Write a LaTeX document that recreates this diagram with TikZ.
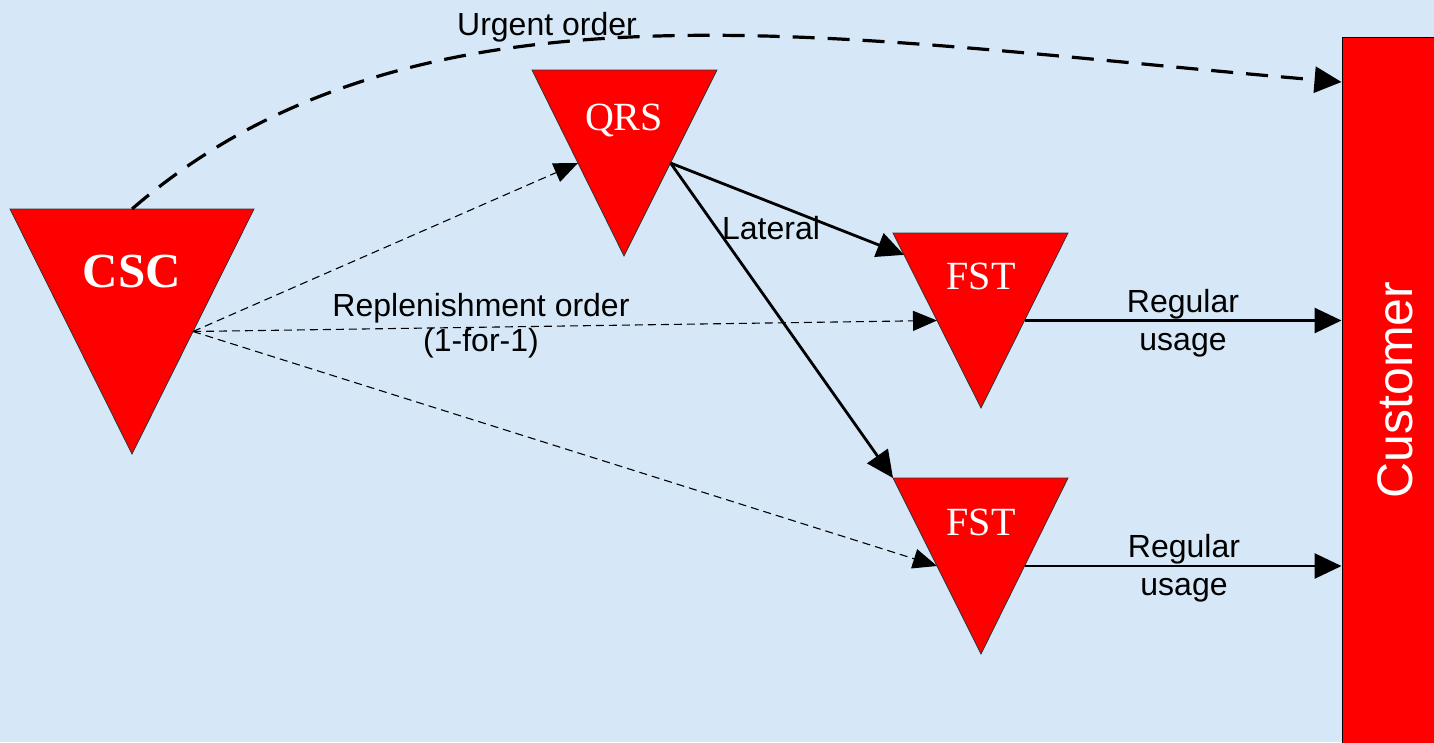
\documentclass[tikz,border=0pt]{standalone}
\usepackage{fontspec}
\setmainfont{Liberation Serif}
\setsansfont{Liberation Sans}
\usetikzlibrary{arrows.meta,calc}
\definecolor{bgblue}{RGB}{214,232,248}
\definecolor{boxred}{RGB}{255,0,0}
\begin{document}
\begin{tikzpicture}[x=1pt,y=-1pt,
  tri/.style={fill=boxred,draw=black!80,line width=0.8pt},
  trilabel/.style={text=white,inner sep=0pt,anchor=base,font=\fontsize{40}{44}\selectfont},
  lbl/.style={inner sep=0pt,align=center,font=\sffamily\fontsize{32}{38}\selectfont},
  thindash/.style={line width=1.1pt,dash pattern=on 8pt off 5pt,-{Triangle[length=24pt,width=20pt]}},
  solidarrow/.style={line width=2.8pt,-{Triangle[length=27pt,width=25pt]}},
  urgent/.style={line width=3.2pt,dash pattern=on 22pt off 13pt,-{Triangle[length=27pt,width=26pt]}},
  custbox/.style={fill=boxred,draw=black,line width=1pt,inner sep=0pt}]
\fill[bgblue] (0,0) rectangle (1434,742);
\useasboundingbox (0,0) rectangle (1434,742);
% triangle corners
\coordinate (cscA) at (10,209);  \coordinate (cscB) at (254,209);  \coordinate (cscC) at (132,454);
\coordinate (qrsA) at (532,70);  \coordinate (qrsB) at (717,70);   \coordinate (qrsC) at (624,256);
\coordinate (f1A) at (893,233);  \coordinate (f1B) at (1068,233);  \coordinate (f1C) at (981,408);
\coordinate (f2A) at (893,478);  \coordinate (f2B) at (1068,478);  \coordinate (f2C) at (981,654);
\path[tri] (cscA) -- (cscB) -- (cscC) -- cycle;
\path[tri] (qrsA) -- (qrsB) -- (qrsC) -- cycle;
\path[tri] (f1A) -- (f1B) -- (f1C) -- cycle;
\path[tri] (f2A) -- (f2B) -- (f2C) -- cycle;
\node[trilabel,font=\bfseries\fontsize{49}{54}\selectfont] (csc) at (132,287) {CSC};
\node[trilabel] (qrs) at (624,130) {QRS};
\node[trilabel] (fst1) at (981,289) {FST};
\node[trilabel] (fst2) at (981,535) {FST};
% customer
\node[custbox,minimum width=106pt,minimum height=706pt] (cust) at (1395,390) {};
\node[rotate=90,text=white,inner sep=0pt,font=\sffamily\fontsize{50}{56}\selectfont] (custtext) at (1395,390) {Customer};
% connection points
\coordinate (cscTop) at ($(cscA)!0.5!(cscB)$);
\coordinate (cscR) at ($(cscB)!0.5!(cscC)$);
\coordinate (qrsL) at ($(qrsA)!0.5!(qrsC)$);
\coordinate (qrsR) at ($(qrsB)!0.5!(qrsC)$);
\coordinate (f1L) at ($(f1A)!0.5!(f1C)$);
\coordinate (f1R) at ($(f1B)!0.5!(f1C)$);
\coordinate (f1Lat) at ($(f1A)!0.125!(f1C)$);
\coordinate (f2L) at ($(f2A)!0.5!(f2C)$);
\coordinate (f2R) at ($(f2B)!0.5!(f2C)$);
\coordinate (urgY) at (0,82);
\coordinate (urgEnd) at (cust.west |- urgY);
% connectors
\draw[urgent] (cscTop) .. controls (420,-40) and (842,40) .. (urgEnd);
\draw[thindash] (cscR) -- (qrsL);
\draw[thindash] (cscR) -- (f1L);
\draw[thindash] (cscR) -- (f2L);
\draw[solidarrow] (qrsR) -- (f1Lat);
\draw[solidarrow] (qrsR) -- (f2A);
\draw[solidarrow] (f1R) -- (f1R -| cust.west);
\draw[solidarrow] (f2R) -- (f2R -| cust.west);
% labels
\node[lbl,anchor=base] (urglbl) at (547,35) {Urgent order};
\node[lbl,anchor=base] (latlbl) at (771,239) {Lateral};
\node[lbl,anchor=north,font=\sffamily\fontsize{32}{35}\selectfont] (replbl) at (481,293) {Replenishment order\\(1-for-1)};
\node[lbl,anchor=north] (reg1) at (1183,289) {Regular\\usage};
\node[lbl,anchor=north] (reg2) at (1184,534) {Regular\\usage};
\end{tikzpicture}
\end{document}
